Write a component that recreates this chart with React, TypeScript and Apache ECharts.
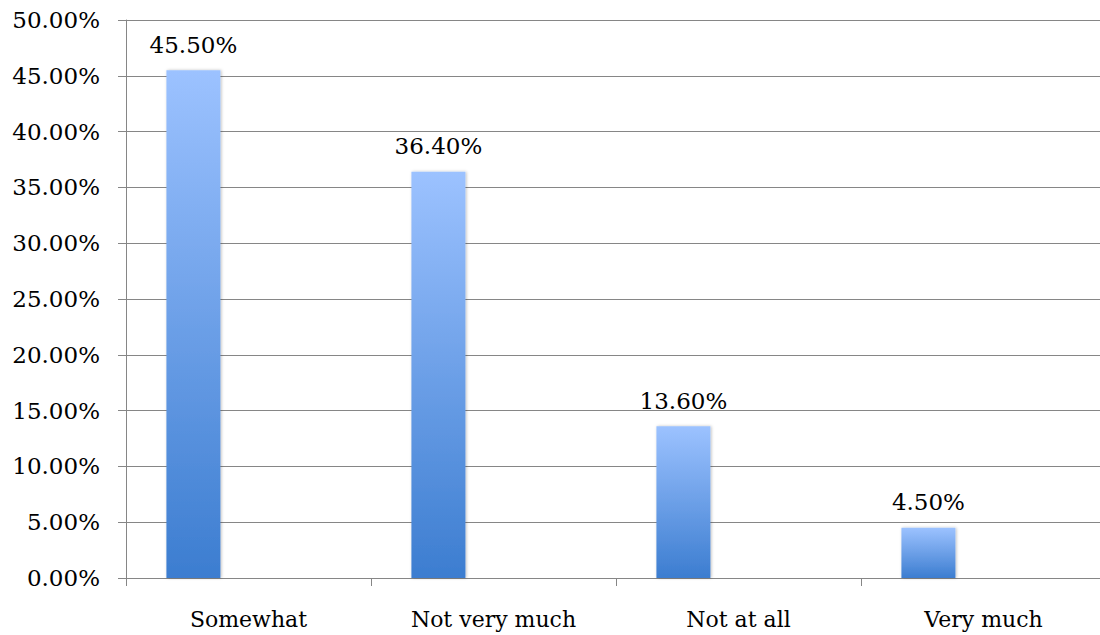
import React, { useEffect, useRef } from "react";
import * as echarts from "echarts";

const categories = ["Somewhat", "Not very much", "Not at all", "Very much"];
const values = [45.5, 36.4, 13.6, 4.5];
const emptySeries = ["-", "-", "-", "-"];
const yTicks = { min: 0, max: 50, interval: 5 };

const FONT = "DejaVu Serif";

export default function App() {
  const ref = useRef<HTMLDivElement>(null);
  useEffect(() => {
    if (!ref.current) return;
    const chart = echarts.init(ref.current, null, { renderer: "svg" });
    chart.setOption({
      animation: false,
      backgroundColor: "#ffffff",
      grid: { left: 126, right: 0, top: 20, bottom: 57, containLabel: false },
      xAxis: {
        type: "category",
        data: categories,
        axisLine: { show: true, lineStyle: { color: "#868686", width: 1 } },
        axisTick: { show: true, length: 8, alignWithLabel: false, lineStyle: { color: "#868686" } },
        axisLabel: { color: "#000", fontFamily: FONT, fontSize: 22, margin: 30 },
        splitLine: { show: false },
      },
      yAxis: {
        type: "value",
        min: yTicks.min,
        max: yTicks.max,
        interval: yTicks.interval,
        axisLine: { show: true, lineStyle: { color: "#868686", width: 1 } },
        axisTick: { show: true, length: 8, lineStyle: { color: "#868686" } },
        axisLabel: {
          color: "#000",
          fontFamily: FONT,
          fontSize: 23,
          margin: 26,
          formatter: (v: number) => v.toFixed(2) + "%",
        },
        splitLine: { show: true, lineStyle: { color: "#868686", width: 1 } },
      },
      series: [
        {
          type: "bar",
          data: values,
          barWidth: 54,
          barGap: "104%",
          itemStyle: {
            color: new echarts.graphic.LinearGradient(0, 0, 0, 1, [
              { offset: 0, color: "#9cc2ff" },
              { offset: 1, color: "#3c7dd0" },
            ]),
            shadowBlur: 3,
            shadowColor: "rgba(0,0,0,0.25)",
            shadowOffsetX: 1,
            shadowOffsetY: 0,
          },
          label: {
            show: true,
            position: "top",
            distance: 14,
            color: "#000",
            fontFamily: FONT,
            fontSize: 23,
            formatter: (p: any) => Number(p.value).toFixed(2) + "%",
          },
        },
        {
          type: "bar",
          data: emptySeries,
          barWidth: 54,
        },
      ],
    });
    return () => chart.dispose();
  }, []);
  return (
    <div
      style={{ position: "absolute", left: 0, top: 0, width: 1100, height: 635, overflow: "hidden" }}
    >
      <div ref={ref} style={{ width: 1106, height: 635 }} />
    </div>
  );
}
